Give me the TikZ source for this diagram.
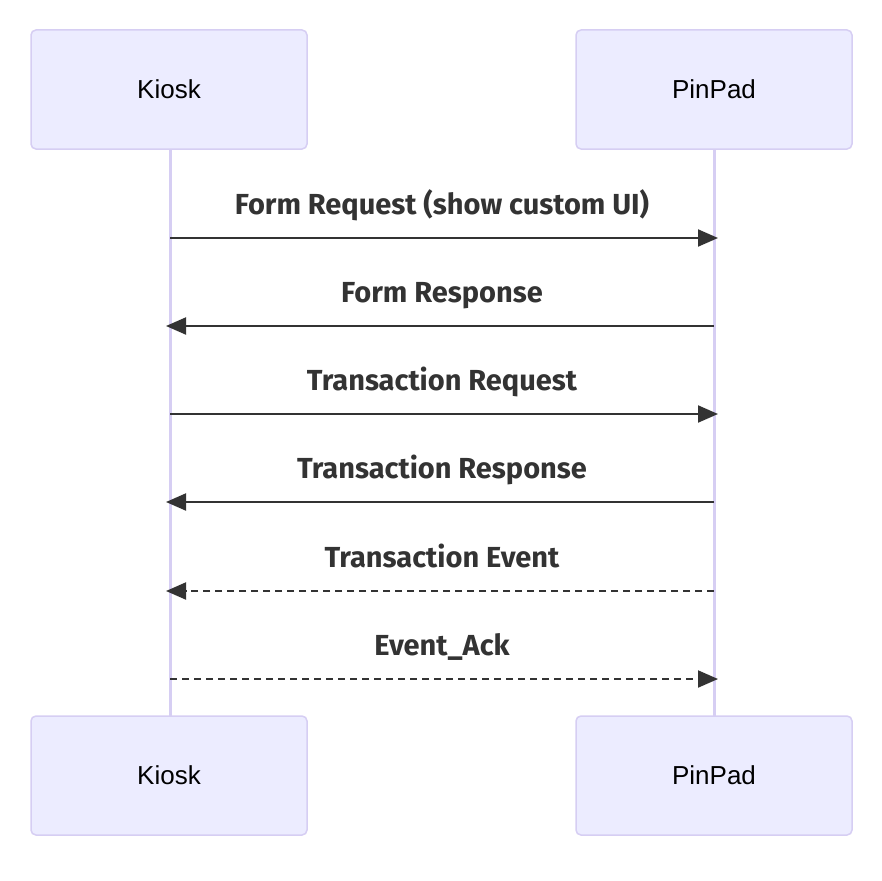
\documentclass[tikz,border=0pt]{standalone}
\usepackage{fontspec}
\setmainfont{Liberation Sans}
\newfontfamily\lblfont{Fira Sans}
\usetikzlibrary{arrows.meta}
\definecolor{actfill}{HTML}{ECECFF}
\definecolor{actline}{HTML}{D6CEF3}
\definecolor{msg}{HTML}{333333}
\begin{document}
\begin{tikzpicture}[x=1pt,y=-1pt,
  actor/.style={draw=actline,line width=1.5pt,fill=actfill,rounded corners=5pt,minimum width=276pt,minimum height=119pt,inner sep=0pt,font=\fontsize{26}{29}\selectfont,text=black},
  life/.style={draw=actline,line width=3pt},
  msgline/.style={draw=msg,line width=2pt,-{Triangle[length=20pt,width=17pt]},shorten >=-4pt},
  msgdash/.style={msgline,dash pattern=on 7pt off 5pt},
  msglabel/.style={font=\lblfont\bfseries\fontsize{29}{32}\selectfont,text=msg,inner sep=0pt,anchor=base}]
\useasboundingbox[fill=white] (0,0) rectangle (882,880);
\node[actor] (k1) at (169,89.5) {Kiosk};
\node[actor] (p1) at (714,89.5) {PinPad};
\node[actor] (k2) at (169,775.5) {Kiosk};
\node[actor] (p2) at (714,775.5) {PinPad};
\coordinate (kt) at (170,150); \coordinate (kbot) at (170,716);
\coordinate (pt) at (714,150); \coordinate (pbot) at (714,716);
\draw[life] (kt) -- (kbot);
\draw[life] (pt) -- (pbot);
\coordinate (ka) at (170,238); \coordinate (pa) at (714,238);
\coordinate (kb) at (170,326); \coordinate (pb) at (714,326);
\coordinate (kc) at (170,414); \coordinate (pc) at (714,414);
\coordinate (kd) at (170,502); \coordinate (pd) at (714,502);
\coordinate (ke) at (170,591); \coordinate (pe) at (714,591);
\coordinate (kf) at (170,679); \coordinate (pf) at (714,679);
\draw[msgline] (ka) -- (pa);
\draw[msgline] (pb) -- (kb);
\draw[msgline] (kc) -- (pc);
\draw[msgline] (pd) -- (kd);
\draw[msgdash] (pe) -- (ke);
\draw[msgdash] (kf) -- (pf);
\node[msglabel] (la) at (442,214) {Form Request (show custom UI)};
\node[msglabel] (lb) at (442,302) {Form Response};
\node[msglabel] (lc) at (442,390) {Transaction Request};
\node[msglabel] (ld) at (442,478) {Transaction Response};
\node[msglabel] (le) at (442,567) {Transaction Event};
\node[msglabel] (lf) at (442,655) {Event\_Ack};
\end{tikzpicture}
\end{document}
